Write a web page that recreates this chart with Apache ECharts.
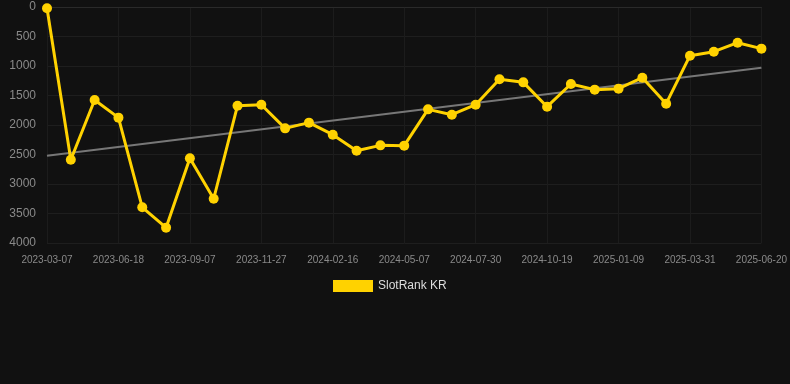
<!DOCTYPE html>
<html><head><meta charset="utf-8">
<script src="https://cdn.jsdelivr.net/npm/echarts@6/dist/echarts.min.js"></script>
<style>html,body{margin:0;padding:0;background:#111111;}#c{width:790px;height:384px;}</style>
</head><body><div id="c"></div>
<script>
const categories = ["2023-03-07","2023-04-10","2023-05-14","2023-06-18","2023-07-15","2023-08-11","2023-09-07","2023-10-04","2023-10-31","2023-11-27","2023-12-24","2024-01-20","2024-02-16","2024-03-14","2024-04-10","2024-05-07","2024-06-04","2024-07-02","2024-07-30","2024-08-26","2024-09-22","2024-10-19","2024-11-15","2024-12-12","2025-01-09","2025-02-05","2025-03-04","2025-03-31","2025-04-27","2025-05-24","2025-06-20"];
const rankValues = [20,2590,1576,1875,3395,3740,2565,3250,1673,1656,2057,1960,2164,2436,2345,2350,1735,1825,1656,1226,1277,1690,1305,1401,1384,1198,1639,825,757,605,706];
const trendEnds = [2520,1028];
const yTicks = {min:0,max:4000,interval:500};

const trendData = categories.map((c,i)=> i===0 ? trendEnds[0] : (i===categories.length-1 ? trendEnds[1] : null));

const chart = echarts.init(document.getElementById('c'));
chart.setOption({
  backgroundColor:'#111111',
  animation:false,
  grid:{left:47,right:28,top:7,bottom:141},
  legend:{
    data:['SlotRank KR'],
    top:275,left:328,
    itemWidth:40,itemHeight:12,
    textStyle:{color:'#dddddd',fontSize:12,fontFamily:'Arial, Liberation Sans, sans-serif'},
    icon:'rect'
  },
  xAxis:{
    type:'category',data:categories,boundaryGap:false,
    axisLine:{lineStyle:{color:'#2a2a2a'}},
    axisTick:{show:false},
    axisLabel:{color:'#8a8a8a',fontSize:10,interval:2,margin:12,fontFamily:'Arial, Liberation Sans, sans-serif'},
    splitLine:{show:true,interval:2,lineStyle:{color:'#1c1c1c'}}
  },
  yAxis:{
    type:'value',inverse:true,min:yTicks.min,max:yTicks.max,interval:yTicks.interval,
    axisLine:{show:false},axisTick:{show:false},
    axisLabel:{color:'#8a8a8a',fontSize:12,margin:11,formatter:function(v){return String(v);},fontFamily:'Arial, Liberation Sans, sans-serif'},
    splitLine:{lineStyle:{color:'#1e1e1e'}}
  },
  series:[
    {name:'SlotRank KR',type:'line',data:rankValues,
     lineStyle:{color:'#FFD200',width:3},itemStyle:{color:'#FFD200'},
     symbol:'circle',symbolSize:10,z:3},
    {name:'trend',type:'line',data:trendData,connectNulls:true,
     lineStyle:{color:'#777777',width:2},symbol:'none',z:2,silent:true}
  ]
});
</script></body></html>
